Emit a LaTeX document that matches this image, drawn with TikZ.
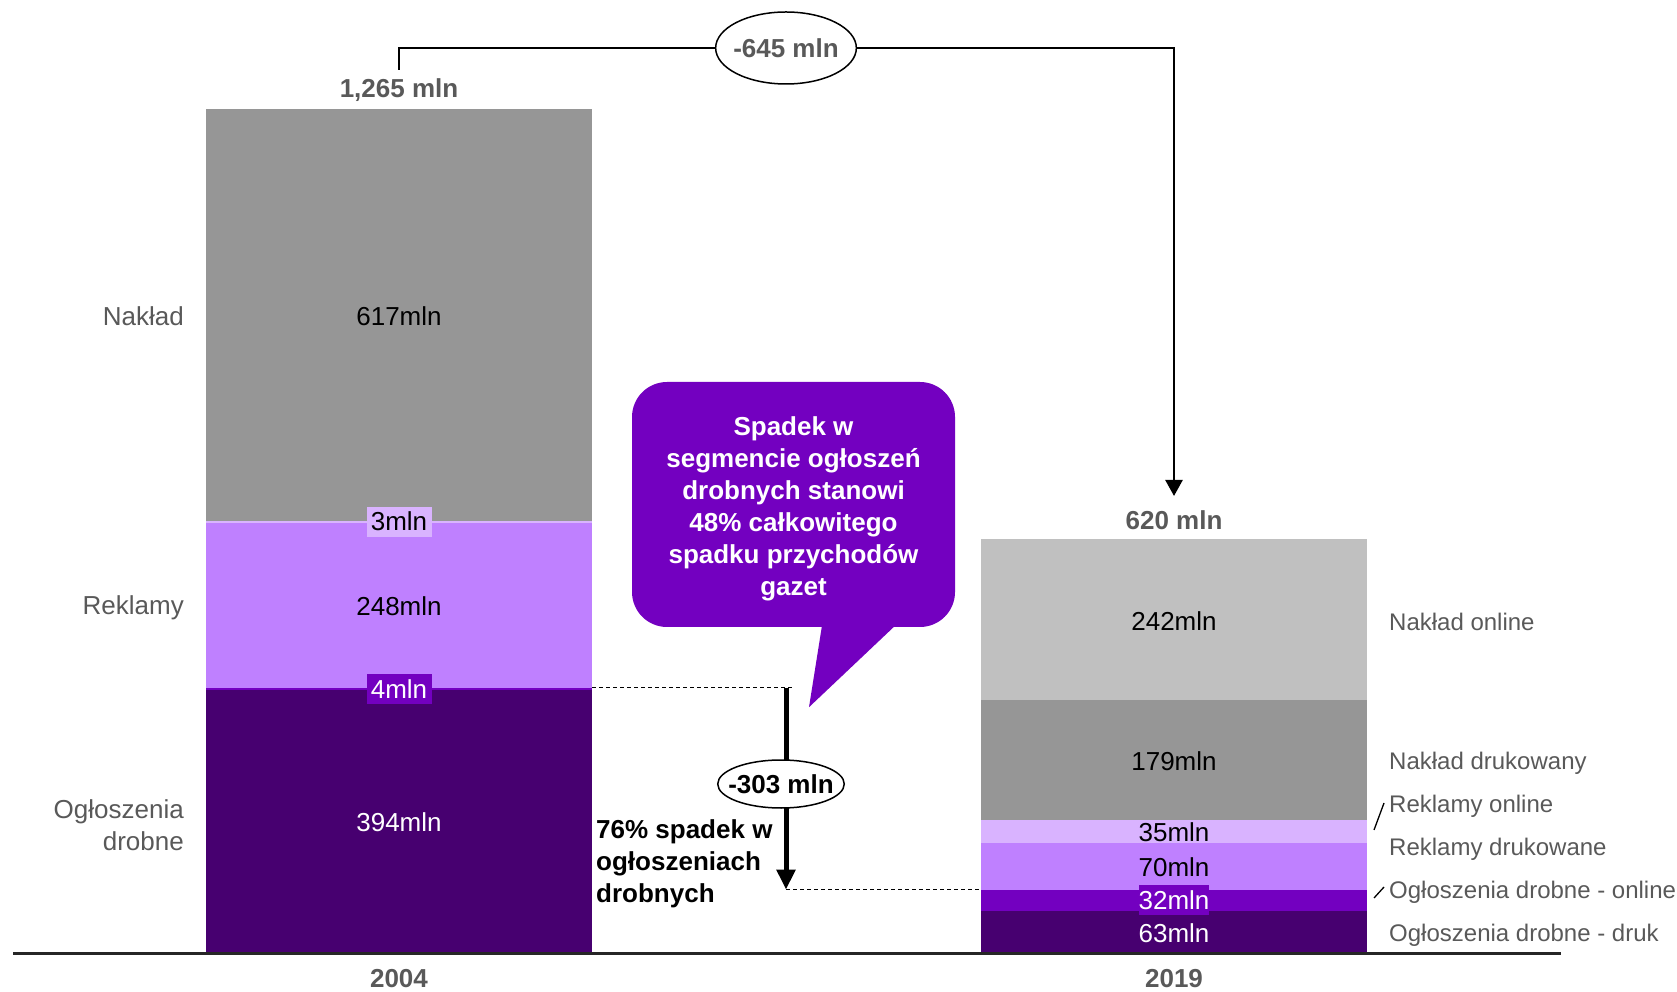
\documentclass[tikz,border=0pt]{standalone}
\usepackage{fontspec}
\setmainfont{Liberation Sans}
\usepackage{tikz}
\usetikzlibrary{arrows.meta,calc,shapes.geometric}

\definecolor{naklad}{HTML}{969696}
\definecolor{nakladon}{HTML}{C0C0C0}
\definecolor{reklamy}{HTML}{BF80FF}
\definecolor{reklamyon}{HTML}{D9B3FF}
\definecolor{oglon}{HTML}{7300C0}
\definecolor{ogldruk}{HTML}{470070}
\definecolor{txtgray}{HTML}{595959}

\begin{document}
\begin{tikzpicture}[x=1pt,y=1pt,
        lblbig/.style={font=\fontsize{26}{32}\selectfont},
        lblsmall/.style={font=\fontsize{24}{30}\selectfont},
        catlbl/.style={lblbig,text=txtgray,align=right,anchor=east,inner sep=0pt},
        leglbl/.style={lblsmall,text=txtgray,anchor=west,inner sep=0pt},
        val/.style={lblbig,inner sep=1pt},
        valtag/.style={val,minimum width=65,minimum height=30,inner sep=0pt},
        sumlbl/.style={font=\fontsize{26}{32}\selectfont\bfseries,text=txtgray},
        diffoval/.style={ellipse,draw,line width=1.5pt,fill=white,inner ysep=0pt,
            font=\fontsize{26}{32}\selectfont\bfseries},
        guide/.style={dash pattern=on 4pt off 3pt,line width=1pt},
        notebox/.style={rounded corners=35pt,fill=oglon,minimum width=323,minimum height=245},
        notetext/.style={text=white,align=center,inner sep=0pt,
            font=\fontsize{26}{32}\selectfont\bfseries}]
        \useasboundingbox (0,0) rectangle (1677,991);

        %bars, y in mln
        \begin{scope}[yshift=38pt,y=0.6664pt]
        %2004
        \fill[ogldruk] (206,0) rectangle (592,394);
        \fill[oglon] (206,394) rectangle (592,398);
        \fill[reklamy] (206,398) rectangle (592,646);
        \fill[reklamyon] (206,646) rectangle (592,649);
        \fill[naklad] (206,649) rectangle (592,1266);
        \node[val] (v617) at (399,956){617mln};
        \node[valtag,fill=reklamyon] (v3) at (399,647.5){3mln};
        \node[val] (v248) at (399,520){248mln};
        \node[valtag,fill=oglon,text=white] (v4) at (399,396){4mln};
        \node[val,text=white] (v394) at (399,196){394mln};
        \coordinate (top4) at (592,398);
        \coordinate (arrS) at (786,398);
        \coordinate (dashend) at (792,398);

        %2019
        \fill[ogldruk] (981,0) rectangle (1367,63);
        \fill[oglon] (981,63) rectangle (1367,95);
        \fill[reklamy] (981,95) rectangle (1367,165);
        \fill[reklamyon] (981,165) rectangle (1367,200);
        \fill[naklad] (981,200) rectangle (1367,379);
        \fill[nakladon] (981,379) rectangle (1367,621);
        \node[val] (v242) at (1174,498.5){242mln};
        \node[val] (v179) at (1174,288){179mln};
        \node[val] (v35) at (1174,181){35mln};
        \node[val] (v70) at (1174,128.5){70mln};
        \node[valtag,fill=oglon,text=white,minimum width=58] (v32) at (1174,79){32mln};
        \node[val,text=white] (v63) at (1174,30){63mln};
        \coordinate (top32) at (981,95);
        \coordinate (arrE) at (786,95);
        \end{scope}

        %axis
        \coordinate (axL) at (13,38);
        \coordinate (axR) at (1561,38);
        \draw[line width=3pt,black!85] (axL)--(axR);
        \node[sumlbl,inner sep=0pt] (y2004) at (399,12){2004};
        \node[sumlbl,inner sep=0pt] (y2019) at (1174,12){2019};

        %categories
        \node[catlbl] (cnaklad) at (184,675){Nakład};
        \node[catlbl] (creklamy) at (184,383){Reklamy};
        \node[catlbl] (cogl) at (184,166){Ogłoszenia\\drobne};
        \node[leglbl] (lnon) at (1389,369){Nakład online};
        \node[leglbl] (lndr) at (1389,228){Nakład drukowany};
        \node[leglbl] (lron) at (1389,185){Reklamy online};
        \node[leglbl] (lrdr) at (1389,142){Reklamy drukowane};
        \node[leglbl] (lon) at (1389,99){Ogłoszenia drobne - online};
        \node[leglbl] (ldr) at (1389,56){Ogłoszenia drobne - druk};
        \coordinate (lead1a) at (1374,161);
        \coordinate (lead1b) at (1384,188);
        \coordinate (lead2a) at (1374,93);
        \coordinate (lead2b) at (1384,104);
        \draw[line width=1.3pt] (lead1a)--(lead1b) (lead2a)--(lead2b);

        %totals
        \node[sumlbl] (t2004) at (399,901){1,265 mln};
        \node[sumlbl] (t2019) at (1174,471){620 mln};
        \node[diffoval,text=txtgray,inner xsep=-3pt,minimum height=72] (d645) at (786,943){-645 mln};
        \coordinate (up2004) at (399,921);
        \coordinate (down2019) at (1174,495);
        \draw[line width=2.5pt] (up2004) |- (d645.west);
        \draw[line width=2.5pt,-{Triangle[length=16pt,width=17pt]}] (d645.east) -| (down2019);

        %classifieds drop
        \draw[guide] (top4)--(dashend);
        \draw[guide] (arrE)--(top32);
        \draw[line width=5pt,-{Triangle[length=20pt,width=18pt]}] (arrS)--(arrE);
        \node[diffoval,inner xsep=-8pt,minimum height=48] (d303) at (781,207){-303 mln};
        \node[anchor=west,align=left,inner sep=0pt,font=\fontsize{26}{32}\selectfont\bfseries] (drop) at (596,127){76\% spadek w\\ogłoszeniach\\drobnych};

        %callout
        \node[notebox] (note) at (793.5,486.5){};
        \fill[oglon] ($(note.south)+(29.5,8)$)--($(note.south)+(15.5,-80)$)--($(note.south)+(108.5,8)$)--cycle;
        \node[notetext] (notetxt) at ([yshift=-4pt]note.center){Spadek w\\segmencie ogłoszeń\\drobnych stanowi\\48\% całkowitego\\spadku przychodów\\gazet};
\end{tikzpicture}
\end{document}
